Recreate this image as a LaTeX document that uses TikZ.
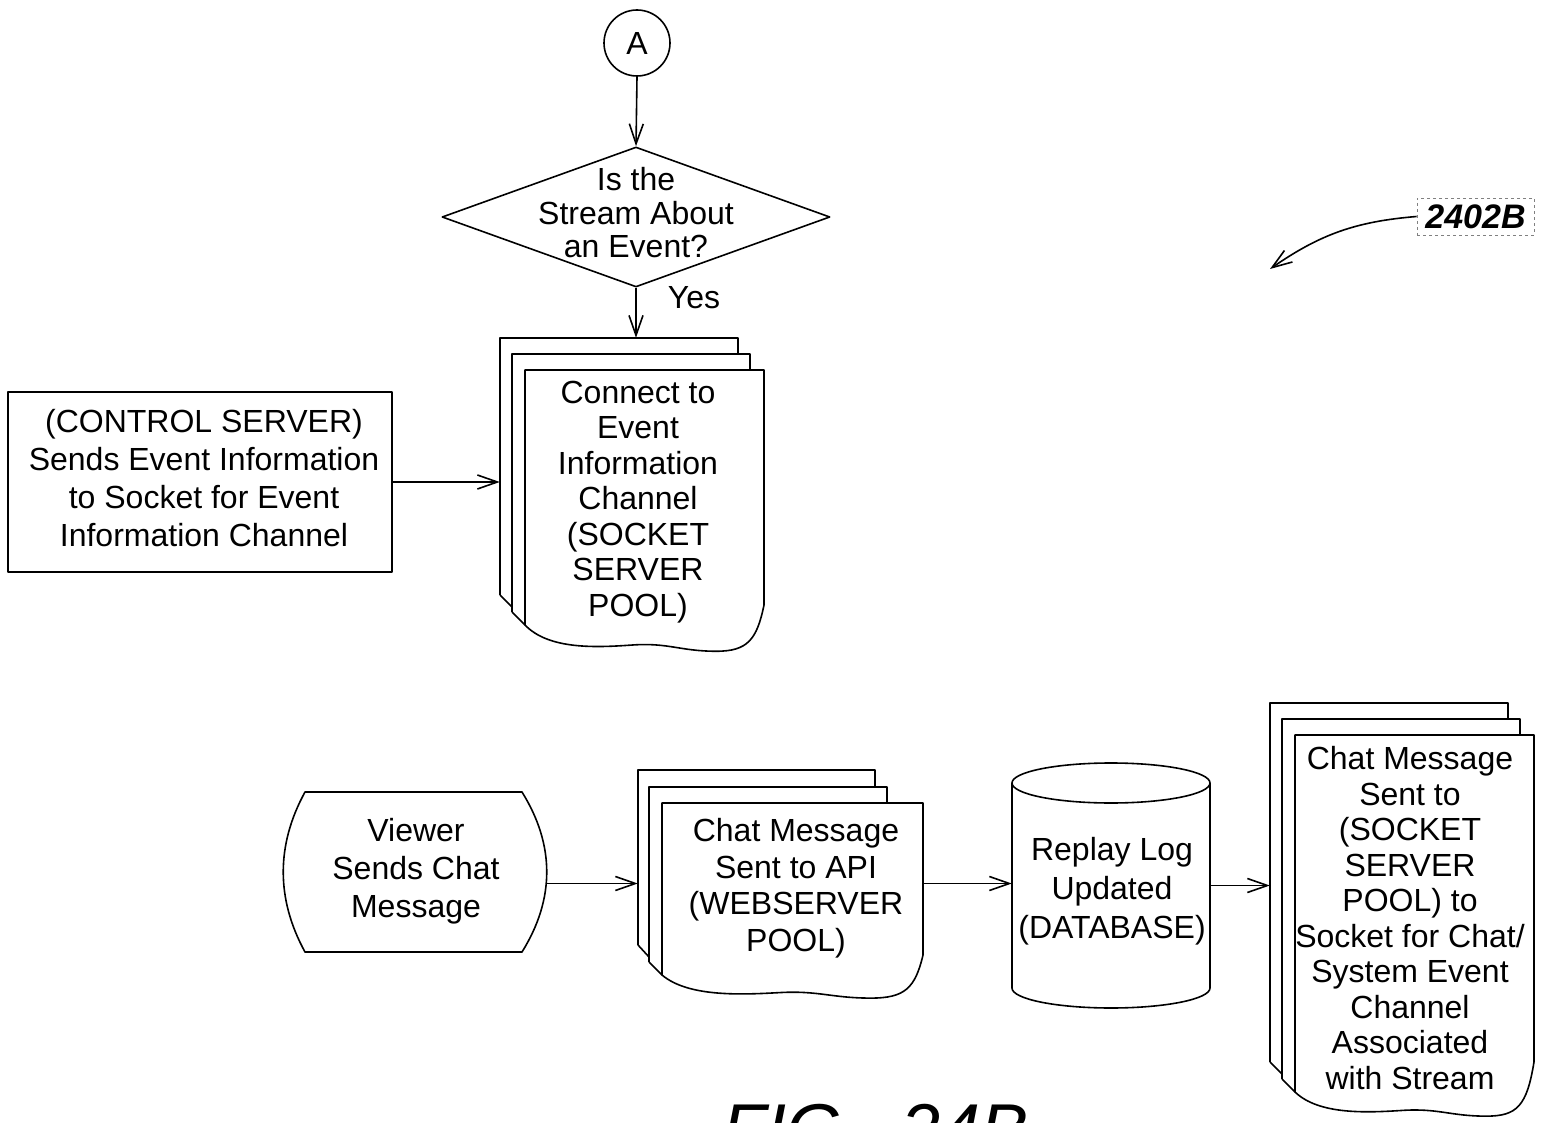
\documentclass[tikz,border=0pt]{standalone}
\usepackage{fontspec}
\setmainfont{Liberation Sans}
\usetikzlibrary{arrows.meta,shapes.geometric}
\newcommand\backsheets[9]{%
  \draw[ln] ({#1},{#9-30}) -- ({#1},{#2}) -- ({#3},{#2}) -- ({#3},{#5});
  \draw[ln] ({#1},{#9-30}) -- ({#4},{#9-18});
  \draw[ln] ({#4},{#9-13}) -- ({#4},{#5}) -- ({#6},{#5}) -- ({#6},{#8});
  \draw[ln] ({#4},{#9-13}) -- ({#7},{#9});
}
\newcommand\frontsheet[6]{%
  \pgfmathsetmacro\fsw{#3-#1}%
  \draw[ln, fill=white] ({#1},{#4}) -- ({#1},{#2}) -- ({#3},{#2}) -- ({#3},{#5})
    .. controls ({#3-0.03*\fsw},{#4+0.6*#6}) and ({#3-0.07*\fsw},{#4+1.05*#6}) .. ({#1+0.8*\fsw},{#4+1.05*#6})
    .. controls ({#1+0.65*\fsw},{#4+1.05*#6}) and ({#1+0.6*\fsw},{#4+0.7*#6}) .. ({#1+0.45*\fsw},{#4+0.8*#6})
    .. controls ({#1+0.3*\fsw},{#4+0.9*#6}) and ({#1+0.1*\fsw},{#4+1.0*#6}) .. ({#1},{#4}) -- cycle;
}
\begin{document}
\begin{tikzpicture}[x=1pt,y=-1pt,
  every node/.style={font=\fontsize{32}{35.5}\selectfont, inner sep=0pt},
  ln/.style={line width=1.6pt, line join=round},
  arr/.style={ln, -{Straight Barb[length=20pt,width=14pt]}},
  txt/.style={align=center},
  area/.style={draw=none, rectangle}
]
\useasboundingbox (0,0) rectangle (1543,1123);
\fill[white] (0,0) rectangle (1543,1123);

% top flow
\node[circle, draw, ln, minimum size=66pt] (A) at (637,43) {A};
\node[diamond, draw, ln, minimum width=388pt, minimum height=140pt] (dec) at (636,217) {};
\node[txt, font=\fontsize{32}{33.5}\selectfont] (dectext) at (636,213) {Is the\\Stream About\\an Event?};

% stack 1
\node[area, minimum width=264pt, minimum height=312pt] (s1) at (632,494) {};
\backsheets{500}{338}{738}{512}{354}{750}{525}{370}{625}
\frontsheet{525}{370}{764}{625}{605}{25}
\node[txt] (t1) at (638,502) {Connect to\\Event\\Information\\Channel\\(SOCKET\\SERVER\\POOL)};

\node[draw, ln, rectangle, minimum width=384pt, minimum height=180pt] (ctrl) at (200,482) {};
\node[txt, font=\fontsize{32}{38}\selectfont] (ctrlt) at (204,478)
  {(CONTROL SERVER)\\Sends Event Information\\to Socket for Event\\Information Channel};

\draw[arr] (A.south) -- (dec.north);
\draw[arr] (dec.south) -- (dec.south |- s1.north);
\node (yes) at (694,298) {Yes};
\draw[arr] (ctrl.east) -- (ctrl.east -| s1.west);

% reference label
\node[draw=gray, dashed, line width=0.8pt, minimum width=117pt, minimum height=37pt,
  font=\fontsize{34}{36}\selectfont\bfseries\itshape] (ref) at (1475.5,216.5) {2402B};
\coordinate (reftip) at (1270,269);
\draw[arr] (ref.west) to[bend right=15] (reftip);

% bottom flow
\node[area, minimum width=264pt, minimum height=160pt] (viewer) at (415,872) {};
\draw[ln] (305,792) -- (522,792) .. controls (555,845) and (555,899) .. (522,952)
  -- (305,952) .. controls (276,899) and (276,845) .. (305,792) -- cycle;
\node[txt, font=\fontsize{32}{38}\selectfont] (vt) at (416,871) {Viewer\\Sends Chat\\Message};

\node[area, minimum width=285pt, minimum height=227pt] (s2) at (780.5,883.5) {};
\backsheets{638}{770}{875}{649}{787}{887}{662}{803}{975}
\frontsheet{662}{803}{923}{975}{955}{22}
\node[txt, font=\fontsize{32}{36.5}\selectfont] (t2) at (796,888) {Chat Message\\Sent to API\\(WEBSERVER\\POOL)};

\node[area, minimum width=198pt, minimum height=245pt] (db) at (1111,885.5) {};
\draw[ln, fill=white] (1012,783) -- (1012,988) arc[start angle=180, end angle=360, x radius=99pt, y radius=20pt]
  -- (1210,783) arc[start angle=0, end angle=180, x radius=99pt, y radius=20pt] -- cycle;
\draw[ln] (1012,783) arc[start angle=180, end angle=360, x radius=99pt, y radius=20pt];
\node[txt, font=\fontsize{32}{39}\selectfont] (dbt) at (1112,891) {Replay Log\\Updated\\(DATABASE)};

\node[area, minimum width=264pt, minimum height=412pt] (s3) at (1402,909) {};
\backsheets{1270}{703}{1508}{1282}{719}{1520}{1295}{735}{1092}
\frontsheet{1295}{735}{1534}{1092}{1062}{23}
\node[txt] (t3) at (1410,918) {Chat Message\\Sent to\\(SOCKET\\SERVER\\POOL) to\\Socket for Chat/\\System Event\\Channel\\Associated\\with Stream};

\draw[arr] (s2.west -| viewer.east) -- (s2.west);
\draw[arr] (s2.east) -- (s2.east -| db.west);
\draw[arr] (db.east) -- (db.east -| s3.west);

\node[anchor=base west, font=\fontsize{72}{76}\selectfont\itshape] (fig) at (722,1154.5) {FIG.\hspace{0.53em}24B};
\end{tikzpicture}
\end{document}
